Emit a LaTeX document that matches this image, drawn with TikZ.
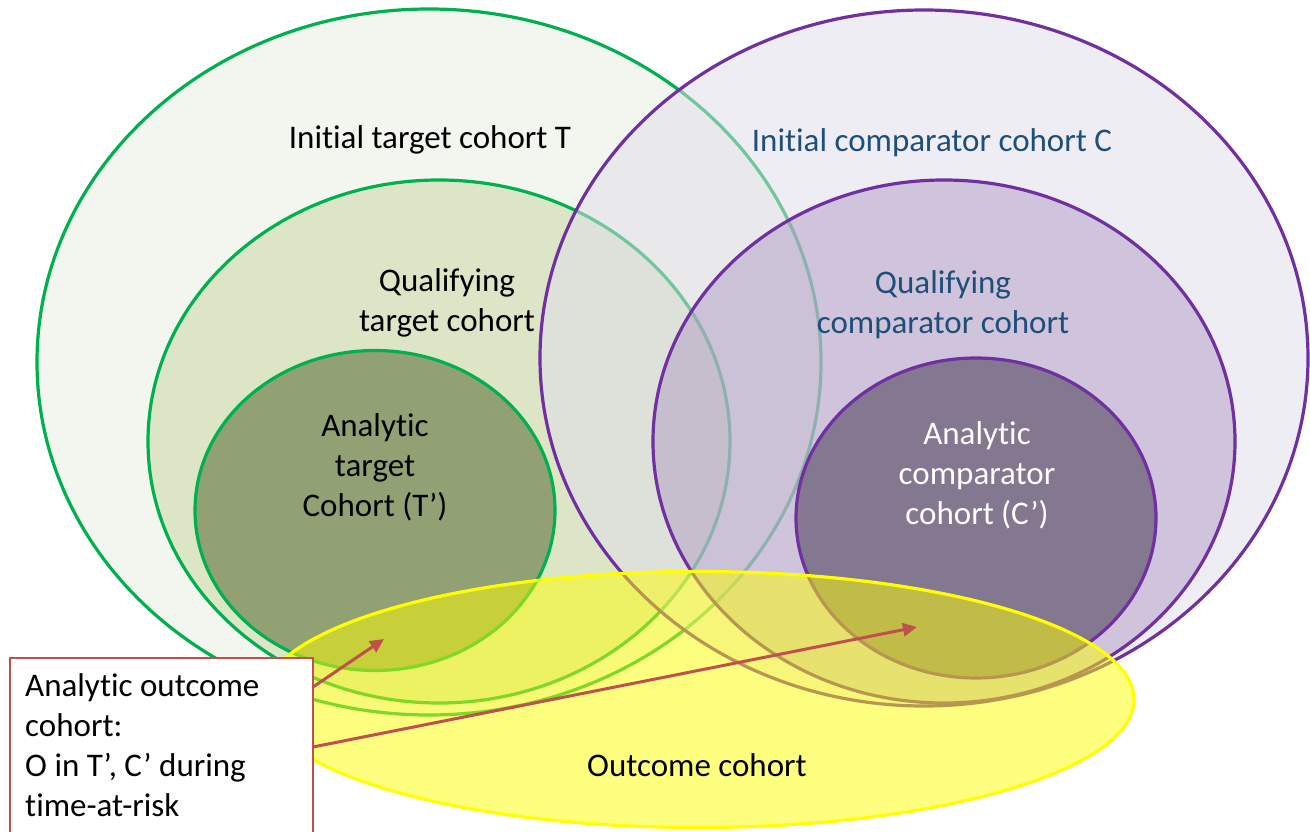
\documentclass[tikz,border=0pt]{standalone}
\usepackage{fontspec}
\setmainfont[Ligatures=NoCommon]{Carlito}
\usetikzlibrary{arrows.meta}
\definecolor{tline}{HTML}{00B050}
\definecolor{cline}{HTML}{7030A0}
\definecolor{tfillA}{RGB}{242,246,238}
\definecolor{tfillB}{RGB}{220,230,199}
\definecolor{tfillC}{RGB}{146,161,116}
\definecolor{cfillA}{RGB}{225,221,235}
\definecolor{cfillB}{RGB}{176,156,195}
\definecolor{cfillC}{RGB}{58,43,70}
\definecolor{ctext}{HTML}{1F4E79}
\definecolor{boxred}{HTML}{C0504D}
\definecolor{yel}{HTML}{FFFF00}
\tikzset{
  tring/.style={draw=tline, line width=3.2pt},
  cring/.style={draw=cline, line width=3.2pt, fill opacity=0.5},
  ocring/.style={draw=yel, line width=3.2pt, fill=yel, fill opacity=0.5},
  lbl/.style={font=\fontsize{33}{40}\selectfont, align=center, inner sep=0pt},
  callout/.style={draw=boxred, line width=2.5pt, fill=white, outer sep=0pt,
    inner sep=0pt, minimum width=303pt, minimum height=200pt, anchor=north west},
  arr/.style={draw=boxred, line width=3pt, -{Triangle[length=14pt,width=13pt]}}
}
\begin{document}
\begin{tikzpicture}[x=1pt,y=-1pt]
\useasboundingbox (0,0) rectangle (1310,832);
\clip (0,0) rectangle (1310,832);
\fill[white] (0,0) rectangle (1310,832);
% target group
\draw[tring, fill=tfillA] (429,362) ellipse [x radius=392, y radius=353];
\draw[tring, fill=tfillB] (439,441.5) ellipse [x radius=291, y radius=261.5];
\draw[tring, fill=tfillC] (375,510.5) ellipse [x radius=180, y radius=160];
% comparator group
\draw[cring, fill=cfillA] (924,358) ellipse [x radius=384, y radius=348];
\draw[cring, fill=cfillB] (944,441.5) ellipse [x radius=291, y radius=261.5];
\draw[cring, fill=cfillC] (976,518) ellipse [x radius=180, y radius=160];
% outcome
\draw[ocring] (698,699.5) ellipse [x radius=436, y radius=128];
% labels
\node[lbl] (iT) at (430,140) {Initial target cohort T};
\node[lbl, text=ctext] (iC) at (932,143) {Initial comparator cohort C};
\node[lbl] (qT) at (447,303) {Qualifying\\target cohort};
\node[lbl, text=ctext] (qC) at (943,305) {Qualifying\\comparator cohort};
\node[lbl] (aT) at (375,467) {Analytic\\target\\Cohort (T’)};
\node[lbl, text=white] (aC) at (977,475) {Analytic\\comparator\\cohort (C’)};
\node[lbl] (oc) at (697,765) {Outcome cohort};
% callout
\node[callout] (box) at (10,658) {};
\node[lbl, align=left, anchor=north west] (boxtext) at (25,673)
  {Analytic outcome\\cohort:\\O in T’, C’ during\\time-at-risk};
\coordinate (tgt1) at (384,639);
\coordinate (tgt2) at (917,627);
\draw[arr] ([yshift=-29pt]box.north east) -- (tgt1);
\draw[arr] ([yshift=-89pt]box.north east) -- (tgt2);
\end{tikzpicture}
\end{document}
